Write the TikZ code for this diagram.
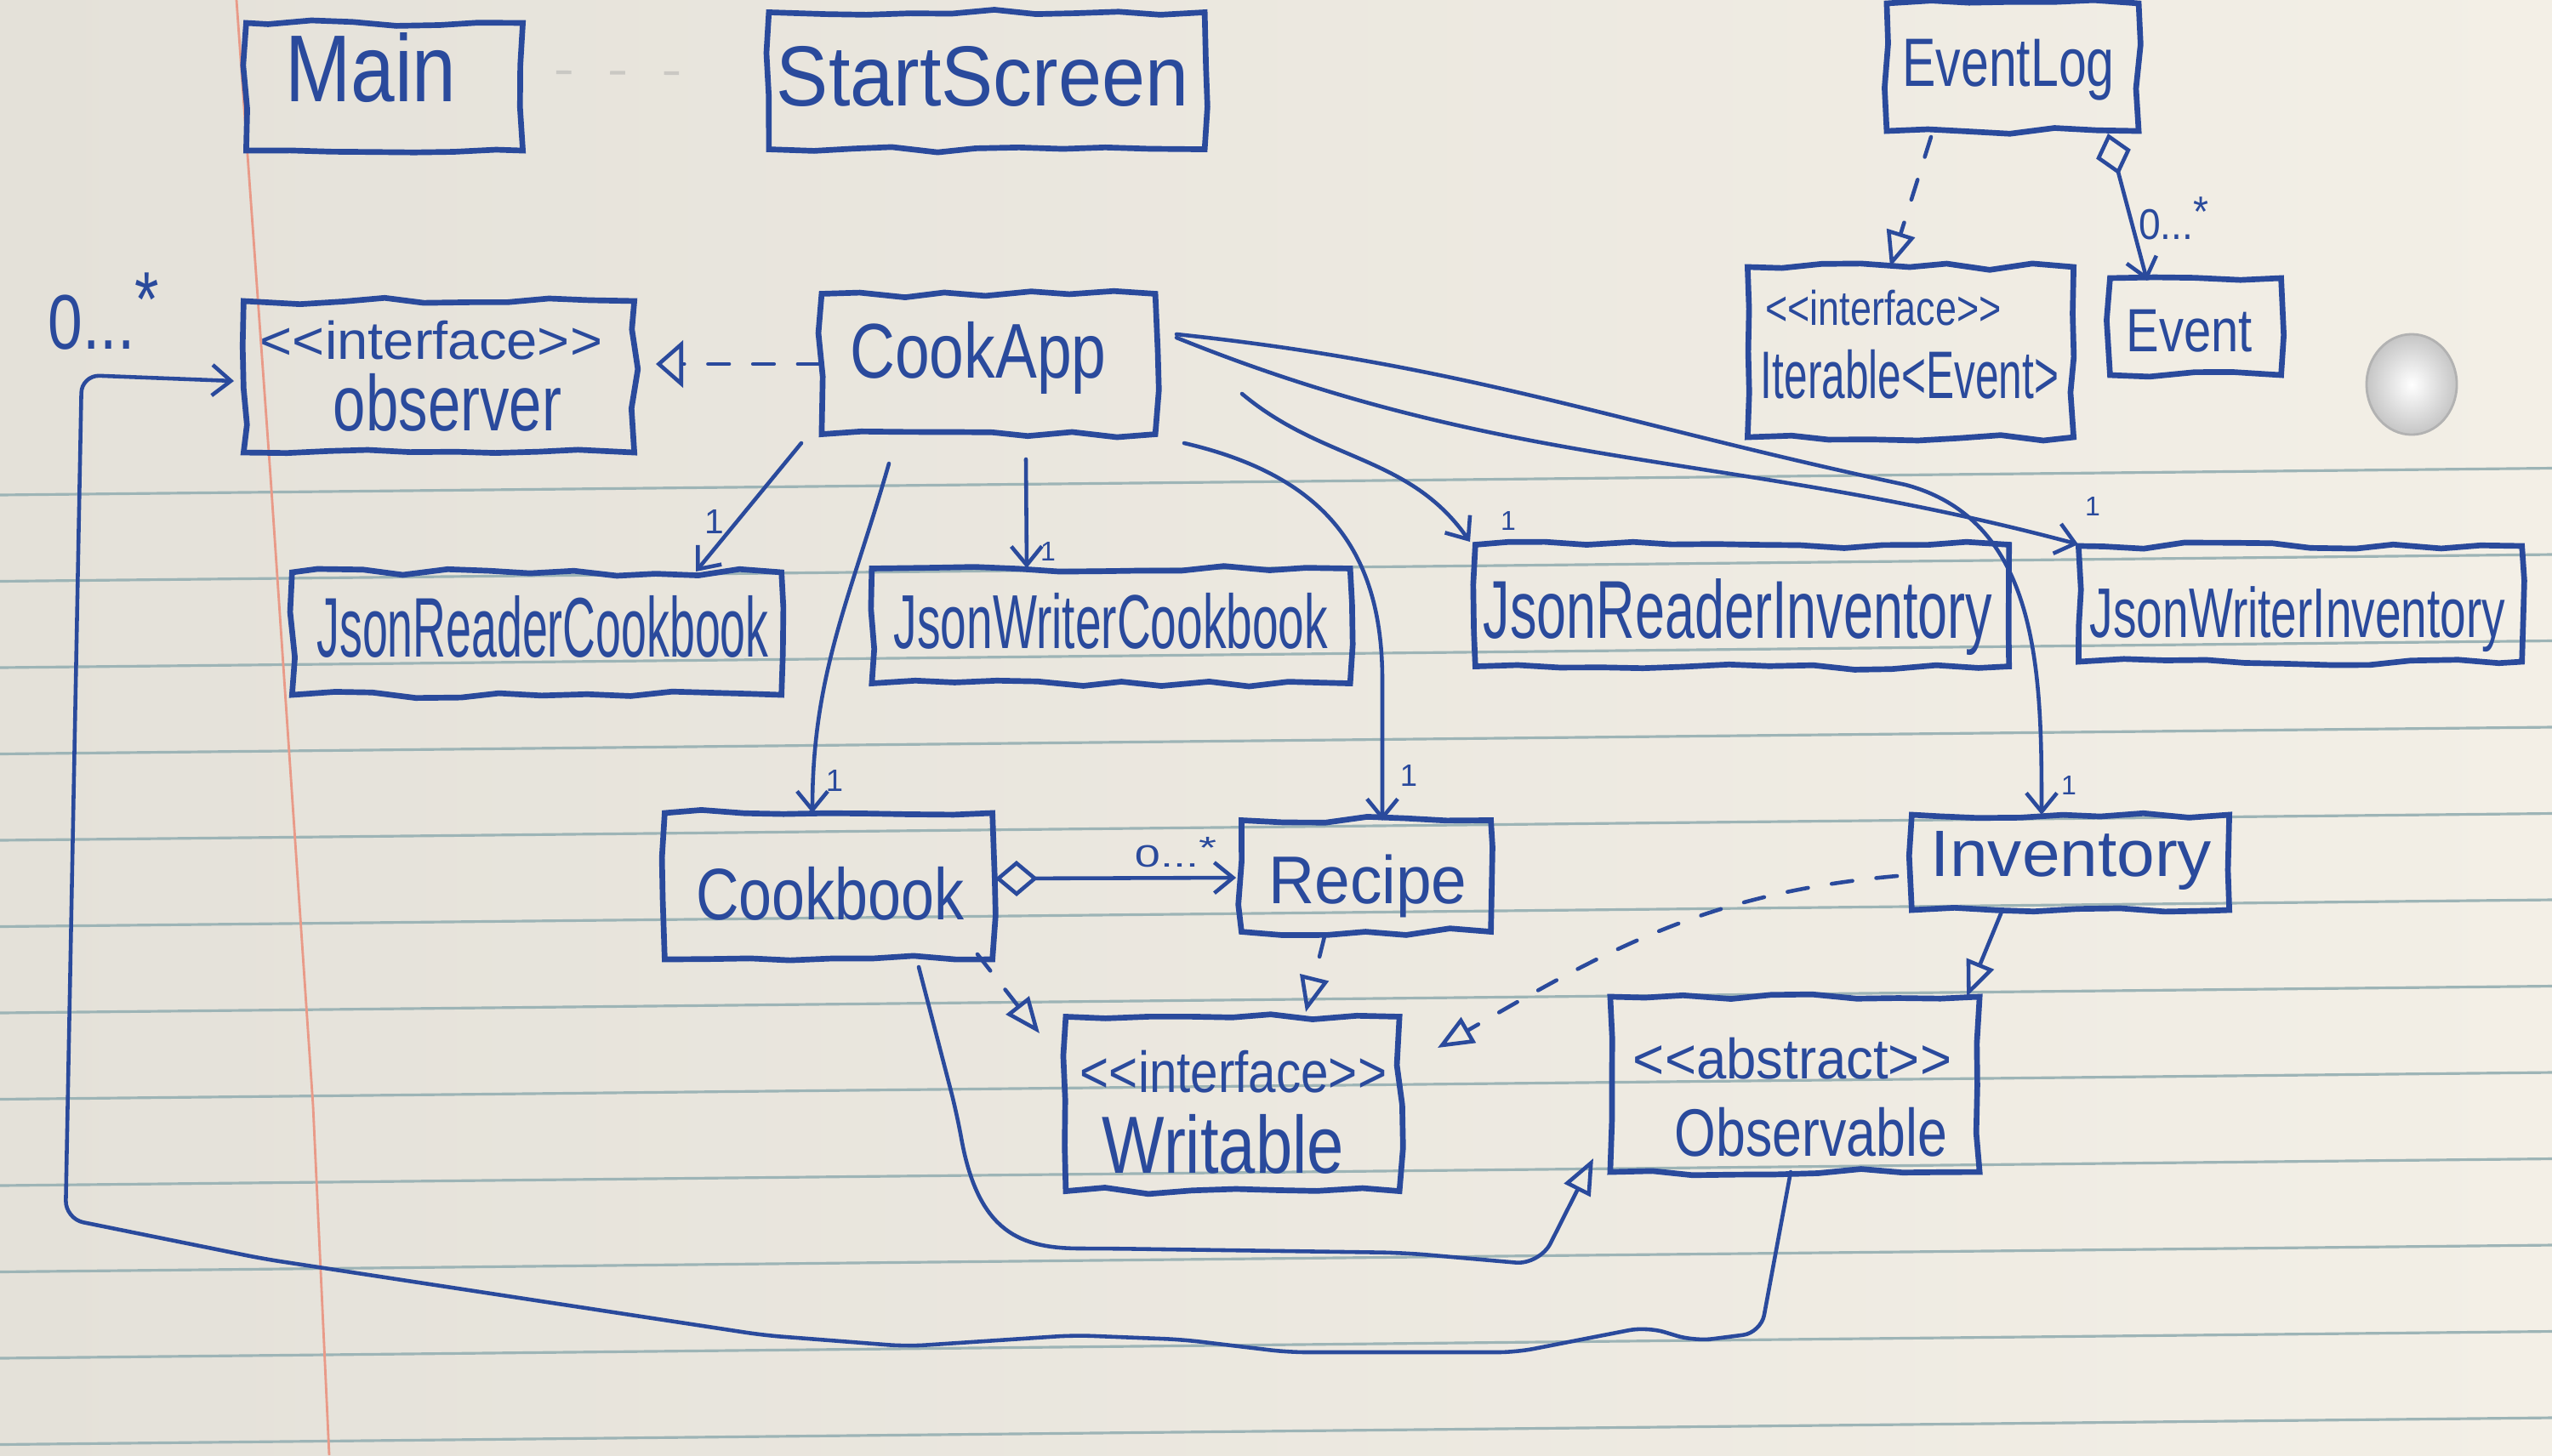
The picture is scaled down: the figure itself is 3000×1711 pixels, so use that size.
\documentclass[tikz,border=0pt]{standalone}
\usepackage{fontspec}
\setmainfont{Liberation Sans}
\usepackage{graphicx}
\usetikzlibrary{arrows.meta,calc,decorations.pathmorphing}
\definecolor{ink}{HTML}{2A4A9C}
\definecolor{paper}{HTML}{F3EFE6}
\definecolor{paperdark}{HTML}{E4E1D9}
\definecolor{rulecol}{HTML}{9DB4B6}
\definecolor{margincol}{HTML}{E99A88}
\newcommand{\hw}[3]{\resizebox*{#1}{#2}{#3}}
\newcommand{\mult}{0...\raisebox{0.55ex}{*}}
\newcommand{\stereo}[1]{<\kern0pt<#1>\kern0pt>}
\tikzset{
  box/.style={draw=ink, line width=1.9pt, rectangle, inner sep=0pt,
    decorate, decoration={random steps, segment length=14pt, amplitude=1.2pt}},
  txt/.style={text=ink, inner sep=0pt},
  conn/.style={draw=ink, line width=1.3pt, line cap=round, line join=round},
  dep/.style={conn, dash pattern=on 7pt off 8pt},
  barb/.style={-{Straight Barb[length=0.22cm,width=0.36cm]}},
  realize/.style={-{Triangle[open,length=0.42cm,width=0.34cm]}},
  aggr/.style={{Diamond[open,length=0.5cm,width=0.42cm]}-{Straight Barb[length=0.22cm,width=0.36cm]}},
  faint/.style={draw=gray!70, opacity=0.45, line width=1.2pt, dash pattern=on 5pt off 13pt},
  ruled/.style={draw=rulecol, line width=0.9pt},
}
\begin{document}
\begin{tikzpicture}[x=0.01cm,y=0.01cm]
\pgfmathsetseed{11}
\useasboundingbox (0,0) rectangle (3000,-1711);
% paper
\shade[left color=paperdark, right color=paper] (0,0) rectangle (3000,-1711);
\foreach \k in {0,...,11}
  \draw[ruled] (0,{-582-101.5*\k}) -- (3000,{-582-101.5*\k+31.5});
\draw[draw=margincol, line width=0.8pt] (278,0) -- (318,-560) -- (368,-1300) -- (387,-1711);
\shade[inner color=white, outer color=gray!45, draw=gray!60, line width=0.8pt]
  (2835,-452) ellipse [x radius=0.53cm, y radius=0.59cm];

% boxes
\node[box, minimum width=3.25cm, minimum height=1.50cm] (main)   at (452,-102)  {};
\node[box, minimum width=5.12cm, minimum height=1.61cm] (start)  at (1160,-95)  {};
\node[box, minimum width=2.96cm, minimum height=1.50cm] (evlog)  at (2366,-79)  {};
\node[box, minimum width=3.83cm, minimum height=2.00cm] (iter)   at (2246,-414) {};
\node[box, minimum width=2.01cm, minimum height=1.14cm] (event)  at (2581,-384) {};
\node[box, minimum width=4.59cm, minimum height=1.78cm] (obsr)   at (516,-443)  {};
\node[box, minimum width=3.92cm, minimum height=1.65cm] (cook)   at (1162,-428) {};
\node[box, minimum width=5.75cm, minimum height=1.44cm] (jrc)    at (631,-745)  {};
\node[box, minimum width=5.62cm, minimum height=1.35cm] (jwc)    at (1306,-736) {};
\node[box, minimum width=6.27cm, minimum height=1.43cm] (jri)    at (2048,-712) {};
\node[box, minimum width=5.21cm, minimum height=1.36cm] (jwi)    at (2704,-710) {};
\node[box, minimum width=3.85cm, minimum height=1.72cm] (cb)     at (974,-1042) {};
\node[box, minimum width=2.93cm, minimum height=1.31cm] (recipe) at (1606,-1030){};
\node[box, minimum width=3.73cm, minimum height=1.12cm] (inv)    at (2434,-1014){};
\node[box, minimum width=3.92cm, minimum height=2.05cm] (wr)     at (1449,-1298){};
\node[box, minimum width=4.34cm, minimum height=2.06cm] (obl)    at (2110,-1275){};

% texts
\node[txt] (mainT)   at (436,-80)   {\hw{2.01cm}{0.82cm}{Main}};
\node[txt] (startT)  at (1155,-90)  {\hw{4.84cm}{0.71cm}{StartScreen}};
\node[txt] (evlogT)  at (2361,-82)  {\hw{2.49cm}{0.72cm}{EventLog}};
\node[txt] (iterS)   at (2214,-362) {\hw{2.77cm}{0.42cm}{\stereo{interface}}};
\node[txt] (iterT)   at (2245,-440) {\hw{3.50cm}{0.58cm}{Iterable<Event>}};
\node[txt] (eventT)  at (2574,-389) {\hw{1.48cm}{0.50cm}{Event}};
\node[txt] (obsrS)   at (507,-400)  {\hw{4.02cm}{0.46cm}{\stereo{interface}}};
\node[txt] (obsrT)   at (526,-473)  {\hw{2.68cm}{0.68cm}{observer}};
\node[txt] (cookT)   at (1150,-421) {\hw{3.01cm}{0.85cm}{CookApp}};
\node[txt] (jrcT)    at (638,-737)  {\hw{5.31cm}{0.73cm}{JsonReaderCookbook}};
\node[txt] (jwcT)    at (1306,-730) {\hw{5.10cm}{0.66cm}{JsonWriterCookbook}};
\node[txt] (jriT)    at (2043,-725) {\hw{5.98cm}{0.90cm}{JsonReaderInventory}};
\node[txt] (jwiT)    at (2701,-728) {\hw{4.88cm}{0.77cm}{JsonWriterInventory}};
\node[txt] (cbT)     at (976,-1051) {\hw{3.15cm}{0.63cm}{Cookbook}};
\node[txt] (recipeT) at (1608,-1042){\hw{2.33cm}{0.74cm}{Recipe}};
\node[txt] (invT)    at (2435,-1012){\hw{3.30cm}{0.69cm}{Inventory}};
\node[txt] (wrS)     at (1450,-1260){\hw{3.60cm}{0.50cm}{\stereo{interface}}};
\node[txt] (wrT)     at (1438,-1345){\hw{2.84cm}{0.70cm}{Writable}};
\node[txt] (oblS)    at (2107,-1245){\hw{3.74cm}{0.49cm}{\stereo{abstract}}};
\node[txt] (oblT)    at (2129,-1331){\hw{3.20cm}{0.58cm}{Observable}};

% multiplicities
\node[txt] (m1) at (2555,-257) {\hw{0.82cm}{0.50cm}{\mult}};
\node[txt] (m2) at (1382,-1002){\hw{0.96cm}{0.36cm}{\mult}};
\node[txt] (m3) at (122,-366)  {\hw{1.30cm}{0.90cm}{\mult}};
\node[txt] (o1) at (840,-613)  {\hw{!}{0.28cm}{1}};
\node[txt] (o2) at (981,-918)  {\hw{!}{0.25cm}{1}};
\node[txt] (o3) at (1232,-648) {\hw{!}{0.22cm}{1}};
\node[txt] (o4) at (1656,-912) {\hw{!}{0.25cm}{1}};
\node[txt] (o5) at (1773,-612) {\hw{!}{0.22cm}{1}};
\node[txt] (o6) at (2460,-595) {\hw{!}{0.22cm}{1}};
\node[txt] (o7) at (2432,-923) {\hw{!}{0.22cm}{1}};

% faint dashes between Main and StartScreen
\draw[faint] ($(main.east)+(36,17)$) -- ($(start.west)+(-100,9)$);

% EventLog relations
\draw[dep, realize] ($(evlog)+(-96,-82)$) -- ($(iter)+(-24,100)$);
\draw[conn, aggr] ($(evlog)+(112,-78)$) -- ($(event)+(-57,54)$);

% CookApp relations
\draw[dep, -{Triangle[open,length=0.32cm,width=0.55cm]}] (cook.west) -- ($(obsr.east)+(22,15)$);
\draw[conn, barb] ($(cook)+(-220,-93)$) -- ($(jrc)+(187,73)$);
\draw[conn, barb] ($(cook)+(-117,-117)$) to[out=-106,in=90] ($(cb)+(-19,86)$);
\draw[conn, barb] ($(cook)+(44,-112)$) -- ($(jwc)+(-99,68)$);
\draw[conn, barb] ($(cook)+(230,-93)$) .. controls (1560,-560) and (1625,-650) .. (1625,-800) -- ($(recipe)+(19,65)$);
\draw[conn, barb] ($(cook)+(298,-35)$) to[out=-40,in=125] ($(jri)+(-320,75)$);
\draw[conn, barb] ($(cook)+(221,31)$) to[out=-22,in=165] ($(jwi)+(-261,70)$);
\draw[conn, barb] ($(cook)+(221,35)$) to[out=-6,in=168] (2240,-570) to[out=-15,in=90] ($(inv)+(-34,56)$);

% Cookbook / Recipe / Inventory
\draw[conn, aggr] ($(cb.east)+(0,9)$) -- ($(recipe.west)+(-3,-2)$);
\draw[dep, realize] ($(cb)+(175,-80)$) -- ($(wr)+(-227,83)$);
\draw[dep, realize] ($(recipe)+(-49,-71)$) -- ($(wr)+(86,108)$);
\draw[dep, realize] ($(inv)+(-204,-16)$) to[out=185,in=30] ($(wr)+(241,66)$);
\draw[conn, realize] ($(inv)+(-81,-58)$) -- ($(obl)+(202,103)$);
\draw[conn, realize, rounded corners=8pt] ($(cb)+(106,-95)$) -- (1125,-1310)
  .. controls (1150,-1450) and (1200,-1468) .. (1300,-1468) -- (1650,-1473) -- (1810,-1487)
  -- ($(obl)+(-237,-87)$);

% Observable -> Observer (0...*)
\draw[conn, barb, rounded corners=6pt] ($(obl)+(-5,-103)$) -- (2070,-1567) -- (1992,-1577)
  -- (1936,-1560) -- (1782,-1590) -- (1515,-1590) -- (1389,-1575) -- (1263,-1570)
  -- (1066,-1583) -- (898,-1570) -- (309,-1480) -- (77,-1433) -- (96,-441)
  -- ($(obsr.west)+(-8,-5)$);
\end{tikzpicture}
\end{document}
